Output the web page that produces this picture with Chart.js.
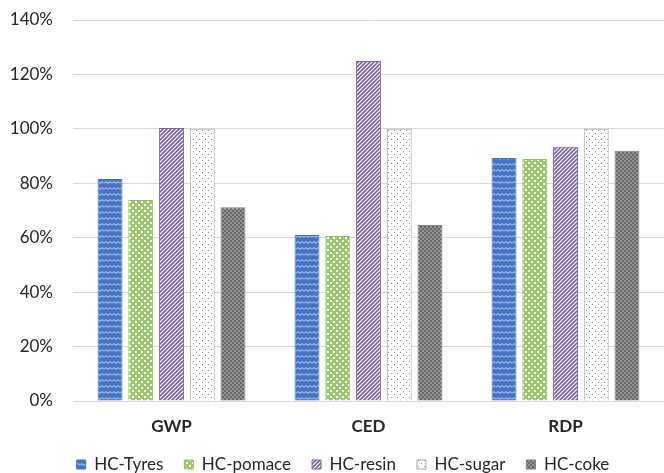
<!DOCTYPE html>
<html><head><meta charset="utf-8">
<script src="https://cdn.jsdelivr.net/npm/chart.js@4"></script>
<style>html,body{margin:0;padding:0;background:#fff;}#c{display:block;}</style>
</head><body>
<canvas id="c" width="664" height="473"></canvas>
<script>
const categories = ["GWP", "CED", "RDP"];
const seriesNames = ["HC-Tyres", "HC-pomace", "HC-resin", "HC-sugar", "HC-coke"];
const tyres  = [81.6, 61.0, 89.3];
const pomace = [73.9, 60.6, 88.9];
const resin  = [100.3, 124.9, 93.4];
const sugar  = [100.0, 100.0, 100.0];
const coke   = [71.2, 64.7, 92.0];
const yTicks = [0, 20, 40, 60, 80, 100, 120, 140];

function tile(w, h, draw) {
  const c = document.createElement('canvas'); c.width = w; c.height = h;
  const x = c.getContext('2d'); draw(x);
  return x.createPattern(c, 'repeat');
}
const pTyres = tile(8, 6, x => {
  x.fillStyle = '#4472C4'; x.fillRect(0,0,8,6);
  x.strokeStyle = 'rgba(255,255,255,0.8)'; x.lineWidth = 1;
  x.beginPath(); x.moveTo(0,3.5); x.lineTo(2,1.5); x.lineTo(4,3.5); x.lineTo(6,1.5); x.lineTo(8,3.5); x.stroke();
});
const pPomace = tile(6, 6, x => {
  x.fillStyle = '#9BC86A'; x.fillRect(0,0,6,6);
  x.fillStyle = '#ffffff'; x.fillRect(0,0,2,2); x.fillRect(3,3,2,2);
});
const pResin = tile(4, 4, x => {
  x.fillStyle = '#ffffff'; x.fillRect(0,0,4,4);
  x.strokeStyle = '#8064A2'; x.lineWidth = 1.7;
  x.beginPath();
  x.moveTo(-1,5); x.lineTo(5,-1);
  x.moveTo(-1,1); x.lineTo(1,-1);
  x.moveTo(3,5); x.lineTo(5,3);
  x.stroke();
});
const pSugar = tile(6, 6, x => {
  x.fillStyle = '#ffffff'; x.fillRect(0,0,6,6);
  x.fillStyle = '#8a8a8a'; x.fillRect(1,1,1,1); x.fillRect(4,4,1,1);
});
const pCoke = tile(4, 4, x => {
  x.fillStyle = '#666666'; x.fillRect(0,0,4,4);
  x.fillStyle = '#959595'; x.fillRect(0,0,2,2); x.fillRect(2,2,2,2);
});

const fills = [pTyres, pPomace, pResin, pSugar, pCoke];
const borders = ['#4472C4', '#8DBF5A', '#8064A2', '#A5A5A5', '#7F7F7F'];
const values = [tyres, pomace, resin, sugar, coke];

const legendShift = {
  id: 'legendShift',
  afterLayout(chart) { if (chart.legend) { chart.legend.left += 10; chart.legend.right += 10; } }
};

new Chart(document.getElementById('c'), {
  type: 'bar',
  data: {
    labels: categories,
    datasets: seriesNames.map((n, i) => ({
      label: n, data: values[i],
      backgroundColor: fills[i], borderColor: borders[i], borderWidth: 1,
      categoryPercentage: 0.78, barPercentage: 0.81
    }))
  },
  plugins: [legendShift],
  options: {
    responsive: false, animation: false,
    layout: { padding: { top: 0, right: 0, left: 2, bottom: -10 } },
    plugins: {
      tooltip: { enabled: false },
      legend: {
        position: 'bottom',
        labels: { font: { family: 'Lato', size: 17 }, color: '#262626', boxWidth: 9, boxHeight: 9, padding: 21 }
      }
    },
    scales: {
      x: {
        grid: { display: false, drawTicks: false },
        border: { color: '#D9D9D9' },
        ticks: { font: { family: 'Lato', size: 17, weight: 'bold' }, color: '#262626', padding: 15 },
        afterFit: ax => { ax.height = 34; }
      },
      y: {
        min: 0, max: 140,
        afterBuildTicks: ax => { ax.ticks = yTicks.map(v => ({ value: v })); },
        grid: { color: '#D9D9D9', drawTicks: false },
        border: { display: false },
        ticks: { font: { family: 'Lato', size: 17 }, color: '#262626', padding: 20, callback: v => v + '%' },
        afterFit: ax => { ax.width = 71; ax.paddingTop = 20; ax.paddingBottom = 0; }
      }
    }
  }
});
</script>
</body></html>
